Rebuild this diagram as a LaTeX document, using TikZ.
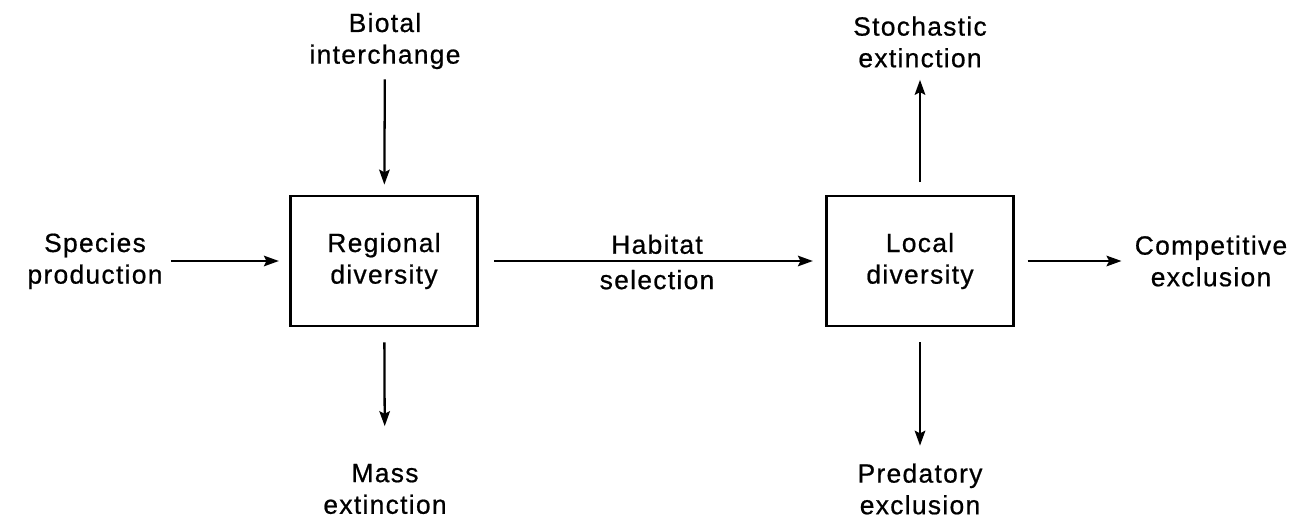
\documentclass[tikz,border=0pt]{standalone}
\usepackage{fontspec}
\newfontfamily\diagfont{Liberation Sans}[FakeBold=0.7, LetterSpace=5]
\usetikzlibrary{arrows.meta,positioning}

\begin{document}
\begin{tikzpicture}[
   font=\diagfont\fontsize{15}{18}\selectfont,
   >={Stealth[length=8.5pt,width=6pt,inset=1.5pt]},
   pool/.style={draw, line width=1.6pt, minimum width=3.75cm, minimum height=2.6cm,
                align=center, inner sep=0pt},
   proc/.style={align=center, inner sep=0pt},
   flow/.style={->, line width=1.3pt}]
  \useasboundingbox (0,0) rectangle (25.96,10.44);
  % the two diversity pools
  \node[pool] (reg) at (7.68,5.22) {Regional\\ diversity};
  \node[pool] (loc) at (18.40,5.22) {Local\\ diversity};
  % processes
  \node[proc] (bio)  at (7.70,9.62)  {Biotal\\ interchange};
  \node[proc] (spec) at (1.90,5.22)  {Species\\ production};
  \node[proc] (mass) at (7.70,0.66)  {Mass\\ extinction};
  \node[proc] (stoc) at (18.40,9.60) {Stochastic\\ extinction};
  \node[proc] (comp) at (24.22,5.22) {Competitive\\ exclusion};
  \node[proc] (pred) at (18.40,0.66) {Predatory\\ exclusion};
  % connectors
  \draw[flow, shorten <=0.2cm, shorten >=0.2cm] (bio) -- (reg);
  \draw[flow, shorten <=0.16cm, shorten >=0.2cm] (spec) -- (reg);
  \draw[flow, shorten <=0.3cm, shorten >=0.24cm] (reg) -- (loc)
     node[midway,above=0cm,xshift=0.1cm]{Habitat}
     node[midway,below=0.04cm,xshift=0.1cm]{selection};
  \draw[flow, shorten <=0.3cm, shorten >=0.75cm] (reg) -- (mass);
  \draw[flow, shorten <=0.25cm, shorten >=0.24cm] (loc) -- (stoc);
  \draw[flow, shorten <=0.25cm, shorten >=0.26cm] (loc) -- (comp);
  \draw[flow, shorten <=0.3cm, shorten >=0.35cm] (loc) -- (pred);
\end{tikzpicture}
\end{document}
